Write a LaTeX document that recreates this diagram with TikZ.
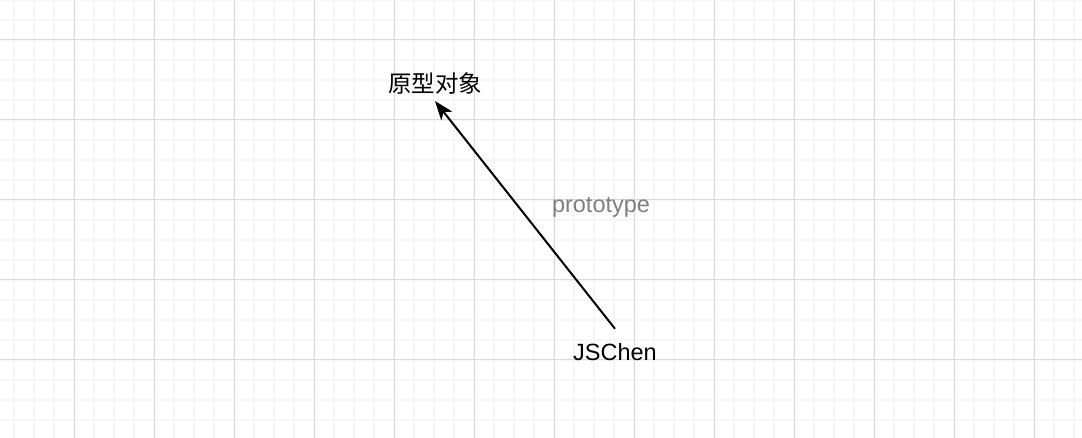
\documentclass[tikz,border=0pt]{standalone}
\usepackage{fontspec}
\setmainfont{Liberation Sans}
\newfontfamily\cjk{Noto Sans CJK SC}
\usetikzlibrary{arrows.meta}
\definecolor{minorgrid}{HTML}{F6F6F6}
\definecolor{majorgrid}{HTML}{DADADA}
\definecolor{labelgray}{HTML}{808080}
\tikzset{
  lbl/.style={inner sep=0pt, font=\fontsize{23.5}{28}\selectfont},
  proto arrow/.style={line width=2pt, -{Stealth[length=19pt,width=14pt,inset=5pt]}},
  edgelbl/.style={lbl, text=labelgray}
}
\begin{document}
\begin{tikzpicture}[x=1pt,y=-1pt]
\useasboundingbox (0,0) rectangle (1082,438);
\fill[white] (0,0) rectangle (1082,438);
% minor grid
\foreach \x in {14,34,...,1074} \draw[minorgrid, line width=1.6pt] (\x,0) -- (\x,438);
\foreach \y in {0,20,...,438} \draw[minorgrid, line width=1.6pt] (0,\y) -- (1082,\y);
% major grid
\foreach \x in {74,154,...,1074} \draw[majorgrid, line width=1pt] (\x,0) -- (\x,438);
\foreach \y in {40,120,...,438} \draw[majorgrid, line width=1pt] (0,\y) -- (1082,\y);
% nodes
\node[lbl, font=\cjk\fontsize{23.5}{28}\selectfont] (proto) at (435,84) {原型对象};
\node[lbl, anchor=base] (js) at (615,361) {JSChen};
\node[edgelbl, anchor=base] (plabel) at (601,213) {prototype};
% connector
\coordinate (tail) at ([yshift=15pt]js.north);
\coordinate (tip) at ([yshift=-6pt]proto.south);
\draw[proto arrow] (tail) -- (tip);
\end{tikzpicture}
\end{document}
